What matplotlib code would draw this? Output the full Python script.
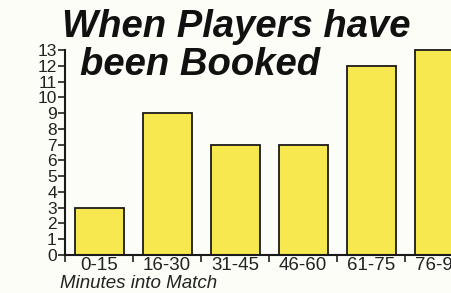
import matplotlib
matplotlib.use("Agg")
import matplotlib.pyplot as plt

categories = ["0-15", "16-30", "31-45", "46-60", "61-75", "76-90"]
bookings = [3, 9, 7, 7, 12, 13]
y_ticks = list(range(0, 14))

plt.rcParams["font.family"] = ["Liberation Sans", "DejaVu Sans"]

fig = plt.figure(figsize=(4.52, 2.93), dpi=100)
fig.patch.set_facecolor("#fdfdf8")
ax = fig.add_axes([0.144, 0.13, 0.856, 0.699])
ax.set_facecolor("#fdfdf8")

x = list(range(len(categories)))
ax.bar(x, bookings, width=0.72, color="#f7e84f", edgecolor="#1a1a1a",
       linewidth=1.3, clip_on=False, zorder=2)

ax.set_xlim(-0.5, 5.19)
ax.set_ylim(0, 13)
ax.set_yticks(y_ticks)
ax.set_yticklabels([str(v) for v in y_ticks], fontsize=12.5, color="#222222")
ax.tick_params(axis="y", length=5, width=1.2, pad=1, colors="#222222")

# category labels under bars, ticks between bars
ax.set_xticks(x)
ax.set_xticklabels(categories, fontsize=13.5, color="#222222")
ax.tick_params(axis="x", length=0, pad=1.5)
ax.set_xticks([i - 0.5 for i in range(len(categories))], minor=True)
ax.tick_params(axis="x", which="minor", length=5, width=1.2, direction="out",
               colors="#222222")

for side in ["top", "right"]:
    ax.spines[side].set_visible(False)
for side in ["left", "bottom"]:
    ax.spines[side].set_linewidth(1.5)
    ax.spines[side].set_color("#1a1a1a")

fig.text(0.133, 0.018, "Minutes into Match", fontsize=13.5, style="italic",
         color="#222222")

fig.text(0.137, 0.874, "When Players have", fontsize=27.5, fontweight="bold",
         style="italic", color="#111111")
fig.text(0.177, 0.744, "been Booked", fontsize=27.5, fontweight="bold",
         style="italic", color="#111111")

fig.savefig("out.png", dpi=100, facecolor=fig.get_facecolor())
